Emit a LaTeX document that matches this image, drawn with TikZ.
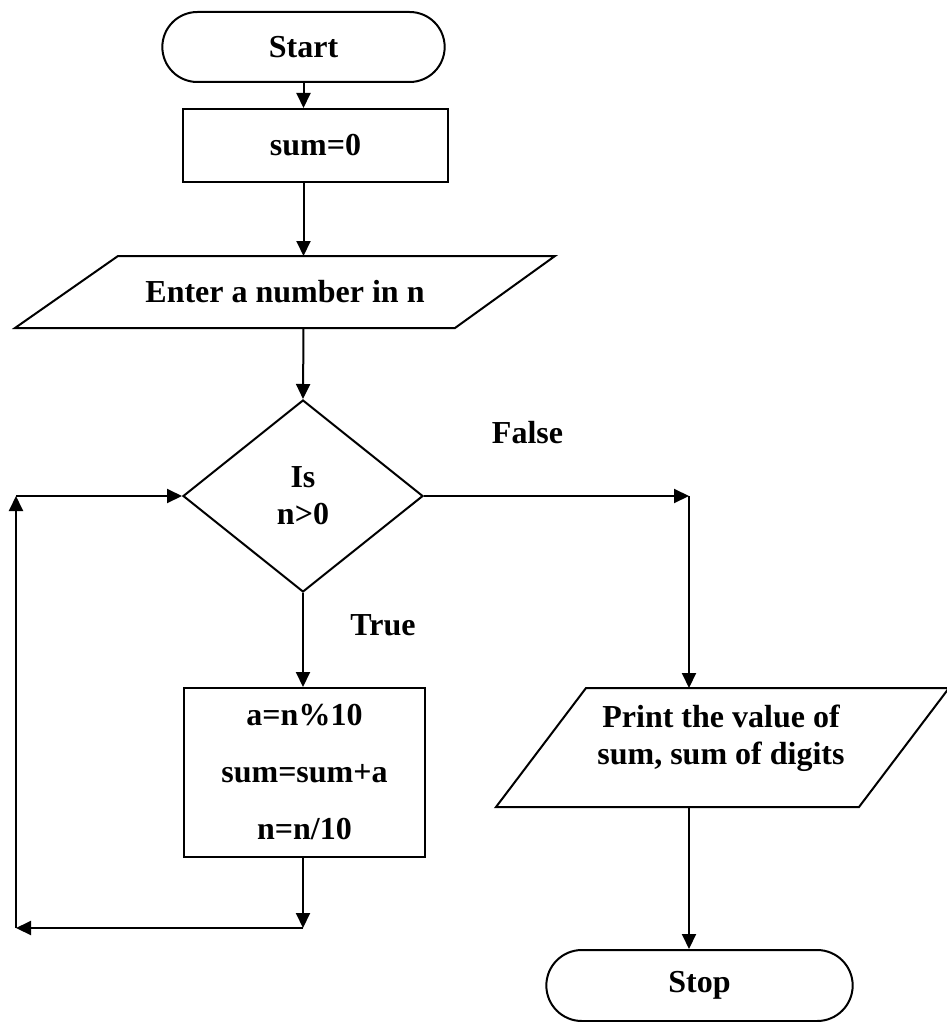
\documentclass[tikz,border=0pt]{standalone}
\usepackage{fontspec}
\setmainfont{Liberation Serif}
\usetikzlibrary{shapes.geometric,shapes.misc,arrows.meta}
\begin{document}
\begin{tikzpicture}[x=1pt,y=-1pt,
  every node/.style={font=\fontsize{32}{37}\selectfont\bfseries},
  outline/.style={line width=2pt,line join=miter},
  arr/.style={line width=2pt,-{Triangle[length=15pt,width=14pt]}},
  term/.style={draw,line width=2pt,rounded rectangle},
  proc/.style={draw,line width=2pt,rectangle,align=center},
  iotext/.style={align=center,inner sep=2pt},
  decision/.style={draw,line width=2pt,diamond,align=center,inner sep=1pt}]
\useasboundingbox (0,0) rectangle (947,1022);

% flowchart blocks
\node[term,minimum width=289pt,minimum height=70pt] (start) at (303.5,47) {Start};
\node[proc,minimum width=265pt,minimum height=73pt] (sum) at (315.5,145.5) {sum=0};

% input block: parallelogram drawn around its text
\node[iotext] (enter) at (285,292) {Enter a number in n};
\path (enter.center) +(-167,-36) coordinate (enterTL)
                     +(270,-36)  coordinate (enterTR)
                     +(170,36)   coordinate (enterBR)
                     +(-270,36)  coordinate (enterBL);
\draw[outline] (enterTL) -- (enterTR) -- (enterBR) -- (enterBL) -- cycle;

\node[decision,minimum width=240pt,minimum height=192pt] (dec) at (303,496) {Is\\n>0};
\node[proc,minimum width=241pt,minimum height=169pt] (body) at (304.5,772.5)
  {a=n\%10\\[20pt]sum=sum+a\\[20pt]n=n/10};

% output block: parallelogram drawn around its text
\node[iotext] (print) at (721,738.5) {Print the value of\\sum, sum of digits};
\path (print.center) +(-135,-50.5) coordinate (printTL)
                     +(228,-50.5)  coordinate (printTR)
                     +(138,68.5)   coordinate (printBR)
                     +(-225,68.5)  coordinate (printBL);
\draw[outline] (printTL) -- (printTR) -- (printBR) -- (printBL) -- cycle;

\node[term,minimum width=313pt,minimum height=71pt] (stop) at (699.5,985.5) {Stop};

% branch labels
\node (false) at (527.5,433) {False};
\node (true) at (383,625) {True};

% routing points
\path (dec.east) ++(265,0) coordinate (fork);
\coordinate (loopdown) at (303,928);
\coordinate (loopcorner) at (16,928);
\coordinate (loopup) at (loopcorner |- dec.west);

% connectors
\draw[arr] (start.south) -- (start.south |- sum.north);
\draw[arr] (start.south |- sum.south) -- (start.south |- enterTL);
\draw[arr] (start.south |- enterBL) -- (dec.north);
\draw[arr] (dec.south) -- (dec.south |- body.north);
\draw[arr] (dec.east) -- (fork);
\draw[arr] (fork) -- (fork |- printTL);
\draw[arr] (fork |- printBL) -- (fork |- stop.north);
\draw[arr] (dec.south |- body.south) -- (loopdown);
\draw[arr] (loopdown) -- (loopcorner);
\draw[arr] (loopcorner) -- (loopup);
\draw[arr] (loopup) -- (dec.west);
\end{tikzpicture}
\end{document}
